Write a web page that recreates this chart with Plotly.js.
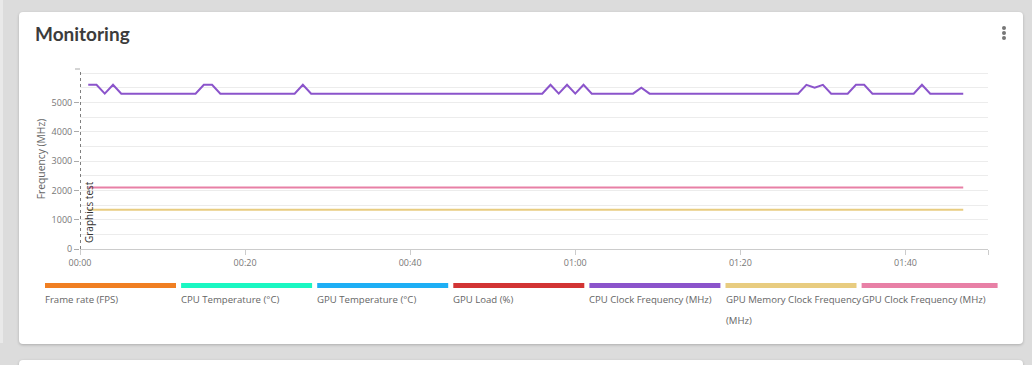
<!DOCTYPE html>
<html>
<head>
<meta charset="utf-8">
<script src="https://cdn.plot.ly/plotly-3.0.1.min.js"></script>
<style>
  html, body { margin: 0; padding: 0; width: 1032px; height: 365px; overflow: hidden; background: #dcdcdc; }
  #strip { position: absolute; left: 0; top: 0; width: 3px; height: 343px; background: #e9e9e9; }
  #card { position: absolute; left: 19px; top: 12px; width: 1004px; height: 332px; background: #fff; border-radius: 4px; box-shadow: 0 1px 3px rgba(0,0,0,0.22); }
  #card2 { position: absolute; left: 19px; top: 360px; width: 1004px; height: 40px; background: #fff; border-radius: 4px; box-shadow: 0 1px 3px rgba(0,0,0,0.22); }
  #menu { position: absolute; left: 1002px; top: 26px; width: 4px; }
  #menu span { display: block; width: 4px; height: 4px; border-radius: 2px; background: #777; margin-bottom: 1px; }
  #chart { position: absolute; left: 0; top: 0; width: 1032px; height: 365px; }
</style>
</head>
<body>
<div id="strip"></div>
<div id="card"></div>
<div id="card2"></div>
<div id="menu"><span></span><span></span><span></span></div>
<div id="chart"></div>
<script>
// ---- data (time in seconds) ----
const seriesNames = ["Frame rate (FPS)", "CPU Temperature (\u00B0C)", "GPU Temperature (\u00B0C)", "GPU Load (%)",
  "CPU Clock Frequency (MHz)", "GPU Memory Clock Frequency (MHz)", "GPU Clock Frequency (MHz)"];
const seriesColors = ["#f07f22", "#1af7c2", "#1eaff5", "#d23434", "#8b54cb", "#e8cc80", "#e880a6"];

const cpuClockTimes = [1, 2, 3, 4, 5, 14, 15, 16, 17, 26, 27, 28, 56, 57, 58, 59, 60, 61, 62, 67, 68, 69,
  87, 88, 89, 90, 91, 93, 94, 95, 96, 101, 102, 103, 107];
const cpuClockValues = [5600, 5600, 5300, 5600, 5300, 5300, 5600, 5600, 5300, 5300, 5600, 5300, 5300, 5600, 5300, 5600, 5300, 5600, 5300, 5300, 5500, 5300,
  5300, 5600, 5500, 5600, 5300, 5300, 5600, 5600, 5300, 5300, 5600, 5300, 5300];

const gpuMemTimes = [1, 107];
const gpuMemValues = [1340, 1340];
const gpuClockTimes = [1, 107];
const gpuClockValues = [2100, 2100];

const xTickVals = [0, 20, 40, 60, 80, 100, 110];
const xTickText = ["00:00", "00:20", "00:40", "01:00", "01:20", "01:40", ""];
const yTickVals = [0, 1000, 2000, 3000, 4000, 5000];
const yTickText = ["0", "1000", "2000", "3000", "4000", "5000"];

const eventTime = 0;
const eventLabel = "Graphics test";

// ---- layout helpers (pixel -> paper) ----
const L = 80, R = 988, T = 69, B = 249;
const px = x => (x - L) / (R - L);
const py = y => (B - y) / (B - T);

const traces = [
  { x: gpuMemTimes, y: gpuMemValues, name: seriesNames[5], mode: "lines", line: { color: seriesColors[5], width: 2 } },
  { x: gpuClockTimes, y: gpuClockValues, name: seriesNames[6], mode: "lines", line: { color: seriesColors[6], width: 2 } },
  { x: cpuClockTimes, y: cpuClockValues, name: seriesNames[4], mode: "lines", line: { color: seriesColors[4], width: 2 } }
];

const shapes = [
  { type: "line", xref: "x", yref: "paper", x0: eventTime, x1: eventTime, y0: 0, y1: 1,
    line: { color: "#555", width: 1.5, dash: "dot" } },
  { type: "line", xref: "paper", yref: "paper", x0: px(75), x1: px(80), y0: 1, y1: 1, line: { color: "#aaa", width: 1 } }
];
const annotations = [
  { x: eventTime, xref: "x", y: py(245), yref: "paper", text: eventLabel, textangle: -90, showarrow: false,
    xanchor: "left", yanchor: "bottom", xshift: 0, font: { family: "Open Sans", size: 10, color: "#333" } }
];

const stride = 136.1, barW = 131, x0Legend = 45;
seriesNames.forEach((name, i) => {
  const xs = x0Legend + stride * i;
  const w = (i === seriesNames.length - 1) ? barW + 5 : barW;
  shapes.push({ type: "rect", xref: "paper", yref: "paper", x0: px(xs), x1: px(xs + w), y0: py(288), y1: py(283),
    line: { width: 0 }, fillcolor: seriesColors[i] });
  let lines = [name];
  if (name.length > 28) {
    const k = name.lastIndexOf(" ");
    lines = [name.slice(0, k), name.slice(k + 1)];
  }
  lines.forEach((t, j) => {
    annotations.push({ x: px(xs), y: py(299.5 + 21 * j), xref: "paper", yref: "paper", text: t, showarrow: false,
      xanchor: "left", yanchor: "middle", xshift: -2, font: { family: "Open Sans", size: 9.6, color: "#666" } });
  });
});

const layout = {
  width: 1032, height: 365,
  margin: { l: L, r: 1032 - R, t: T, b: 365 - B, pad: 0 },
  paper_bgcolor: "rgba(0,0,0,0)", plot_bgcolor: "rgba(0,0,0,0)",
  showlegend: false,
  title: { text: "Monitoring", x: 35 / 1032, xanchor: "left", xref: "container", y: 1 - 34 / 365, yanchor: "middle", yref: "container",
    font: { family: "Lato", size: 19, weight: 700, color: "#3c3c3c" } },
  xaxis: {
    range: [0, 110], tickmode: "array", tickvals: xTickVals, ticktext: xTickText,
    showgrid: false, zeroline: false, showline: true, linecolor: "#ccc", linewidth: 1,
    ticks: "outside", ticklen: 5, tickcolor: "#ccc", tickfont: { family: "Open Sans", size: 9, color: "#777" }
  },
  yaxis: {
    range: [0, 6140], tickmode: "array", tickvals: yTickVals, ticktext: yTickText,
    showgrid: true, gridcolor: "#ececec", gridwidth: 1, zeroline: false, showline: false,
    ticks: "outside", ticklen: 5, tickcolor: "#aaa", tickfont: { family: "Open Sans", size: 9, color: "#777" },
    minor: { dtick: 500, tick0: 0, showgrid: true, gridcolor: "#ececec", ticks: "" },
    title: { text: "Frequency (MHz)", standoff: 4, font: { family: "Open Sans", size: 10.3, color: "#666" } }
  },
  shapes: shapes,
  annotations: annotations
};

Plotly.newPlot("chart", traces, layout, { displayModeBar: false, staticPlot: true });
</script>
</body>
</html>
